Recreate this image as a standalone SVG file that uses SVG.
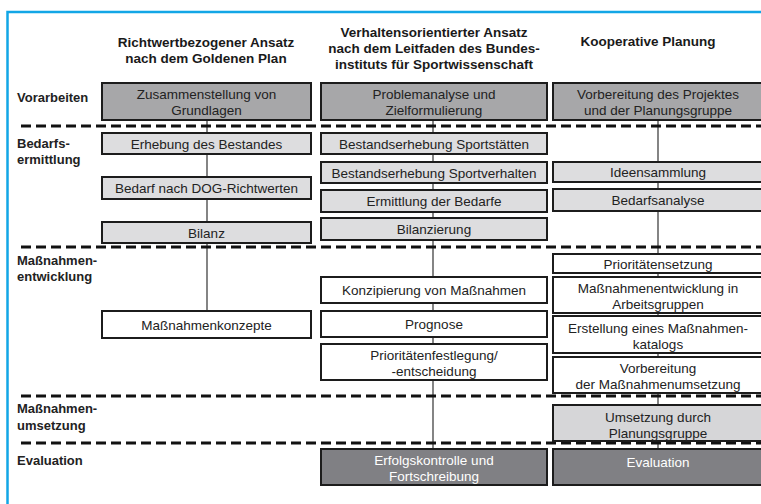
<svg xmlns="http://www.w3.org/2000/svg" width="761" height="504" viewBox="0 0 761 504">
  <style>
    .frame { fill: none; stroke: #12a6e6; stroke-width: 2.5; }
    .sep { stroke: #111; stroke-width: 3; stroke-dasharray: 10 5; fill: none; }
    .link { stroke: #333; stroke-width: 1.2; fill: none; }
    .box rect { stroke: #1c1c1c; stroke-width: 2; }
    .pre rect { fill: #a7a7a9; }
    .need rect { fill: #dddddf; }
    .act rect { fill: #ffffff; }
    .impl rect { fill: #d6d6d8; }
    .eval rect { fill: #808084; }
    .box text { font-family: "Liberation Sans", Arial, sans-serif; font-size: 13.5px; fill: #222; text-anchor: middle; }
    .eval text { fill: #ffffff; }
    .head { font-family: "Liberation Sans", Arial, sans-serif; font-size: 13.5px; font-weight: bold; fill: #1a1a1a; text-anchor: middle; }
    .row { font-family: "Liberation Sans", Arial, sans-serif; font-size: 13px; font-weight: bold; fill: #222; }
  </style>

  <rect width="761" height="504" fill="#ffffff"/>
  <rect class="frame" x="7.5" y="12" width="760" height="500"/>

  <!-- column headings -->
  <g id="headings">
    <text class="head" x="206" y="47">Richtwertbezogener Ansatz</text>
    <text class="head" x="206" y="63">nach dem Goldenen Plan</text>
    <text class="head" x="434" y="37">Verhaltensorientierter Ansatz</text>
    <text class="head" x="434" y="53">nach dem Leitfaden des Bundes-</text>
    <text class="head" x="434" y="69">instituts für Sportwissenschaft</text>
    <text class="head" x="648" y="46">Kooperative Planung</text>
  </g>

  <!-- phase labels -->
  <g id="phases">
    <text class="row" x="17" y="102">Vorarbeiten</text>
    <text class="row" x="17" y="148">Bedarfs-</text>
    <text class="row" x="17" y="164">ermittlung</text>
    <text class="row" x="17" y="265">Maßnahmen-</text>
    <text class="row" x="17" y="281">entwicklung</text>
    <text class="row" x="17" y="413">Maßnahmen-</text>
    <text class="row" x="17" y="430">umsetzung</text>
    <text class="row" x="17" y="465">Evaluation</text>
  </g>

  <!-- connectors -->
  <g id="connectors">
    <line class="link" x1="207" y1="120" x2="207" y2="311"/>
    <line class="link" x1="433" y1="120" x2="433" y2="449"/>
    <line class="link" x1="658" y1="120" x2="658" y2="449"/>
  </g>

  <!-- phase separators -->
  <g id="separators">
    <line class="sep" x1="21" y1="126" x2="761" y2="126"/>
    <line class="sep" x1="21" y1="247" x2="761" y2="247"/>
    <line class="sep" x1="21" y1="396" x2="761" y2="396"/>
    <line class="sep" x1="21" y1="443" x2="761" y2="443"/>
  </g>

  <!-- Richtwertbezogener Ansatz -->
  <g id="r-grundlagen" class="box pre">
    <rect x="102" y="83" width="209" height="37"/>
    <text x="206.5" y="99">Zusammenstellung von</text>
    <text x="206.5" y="115">Grundlagen</text>
  </g>
  <g id="r-bestand" class="box need">
    <rect x="102" y="133" width="209" height="21"/>
    <text x="206.5" y="148.5">Erhebung des Bestandes</text>
  </g>
  <g id="r-dog" class="box need">
    <rect x="102" y="177" width="209" height="22"/>
    <text x="206.5" y="193">Bedarf nach DOG-Richtwerten</text>
  </g>
  <g id="r-bilanz" class="box need">
    <rect x="102" y="222" width="209" height="21"/>
    <text x="206.5" y="237.5">Bilanz</text>
  </g>
  <g id="r-konzepte" class="box act">
    <rect x="102" y="311" width="209" height="27"/>
    <text x="206.5" y="329.5">Maßnahmenkonzepte</text>
  </g>

  <!-- Verhaltensorientierter Ansatz -->
  <g id="v-problem" class="box pre">
    <rect x="321" y="83" width="226" height="37"/>
    <text x="434" y="99">Problemanalyse und</text>
    <text x="434" y="115">Zielformulierung</text>
  </g>
  <g id="v-staetten" class="box need">
    <rect x="321" y="133" width="226" height="21"/>
    <text x="434" y="148.5">Bestandserhebung Sportstätten</text>
  </g>
  <g id="v-verhalten" class="box need">
    <rect x="321" y="162" width="226" height="21"/>
    <text x="434" y="177.5">Bestandserhebung Sportverhalten</text>
  </g>
  <g id="v-bedarfe" class="box need">
    <rect x="321" y="190" width="226" height="22"/>
    <text x="434" y="206">Ermittlung der Bedarfe</text>
  </g>
  <g id="v-bilanzierung" class="box need">
    <rect x="321" y="218" width="226" height="22"/>
    <text x="434" y="234">Bilanzierung</text>
  </g>
  <g id="v-konzipierung" class="box act">
    <rect x="321" y="277" width="226" height="26"/>
    <text x="434" y="295">Konzipierung von Maßnahmen</text>
  </g>
  <g id="v-prognose" class="box act">
    <rect x="321" y="311" width="226" height="26"/>
    <text x="434" y="329">Prognose</text>
  </g>
  <g id="v-prioritaeten" class="box act">
    <rect x="321" y="344" width="226" height="36"/>
    <text x="434" y="360">Prioritätenfestlegung/</text>
    <text x="434" y="376">-entscheidung</text>
  </g>
  <g id="v-erfolg" class="box eval">
    <rect x="321" y="449" width="226" height="36"/>
    <text x="434" y="465">Erfolgskontrolle und</text>
    <text x="434" y="481">Fortschreibung</text>
  </g>

  <!-- Kooperative Planung -->
  <g id="k-vorbereitung" class="box pre">
    <rect x="553" y="83" width="212" height="37"/>
    <text x="658" y="99">Vorbereitung des Projektes</text>
    <text x="658" y="115">und der Planungsgruppe</text>
  </g>
  <g id="k-ideen" class="box need">
    <rect x="553" y="162" width="212" height="20"/>
    <text x="658" y="177">Ideensammlung</text>
  </g>
  <g id="k-analyse" class="box need">
    <rect x="553" y="189" width="212" height="22"/>
    <text x="658" y="205">Bedarfsanalyse</text>
  </g>
  <g id="k-setzung" class="box act">
    <rect x="553" y="254" width="212" height="19"/>
    <text x="658" y="268.5">Prioritätensetzung</text>
  </g>
  <g id="k-arbeitsgruppen" class="box act">
    <rect x="553" y="277" width="212" height="36"/>
    <text x="658" y="292.5">Maßnahmenentwicklung in</text>
    <text x="658" y="308.5">Arbeitsgruppen</text>
  </g>
  <g id="k-katalog" class="box act">
    <rect x="553" y="316" width="212" height="37"/>
    <text x="658" y="332.5">Erstellung eines Maßnahmen-</text>
    <text x="658" y="348.5">katalogs</text>
  </g>
  <g id="k-umsetzungsvorbereitung" class="box act">
    <rect x="553" y="357" width="212" height="36"/>
    <text x="658" y="372.5">Vorbereitung</text>
    <text x="658" y="388.5">der Maßnahmenumsetzung</text>
  </g>
  <g id="k-umsetzung" class="box impl">
    <rect x="553" y="405" width="212" height="36"/>
    <text x="658" y="422">Umsetzung durch</text>
    <text x="658" y="438">Planungsgruppe</text>
  </g>
  <g id="k-evaluation" class="box eval">
    <rect x="553" y="449" width="212" height="36"/>
    <text x="658" y="467">Evaluation</text>
  </g>
</svg>
